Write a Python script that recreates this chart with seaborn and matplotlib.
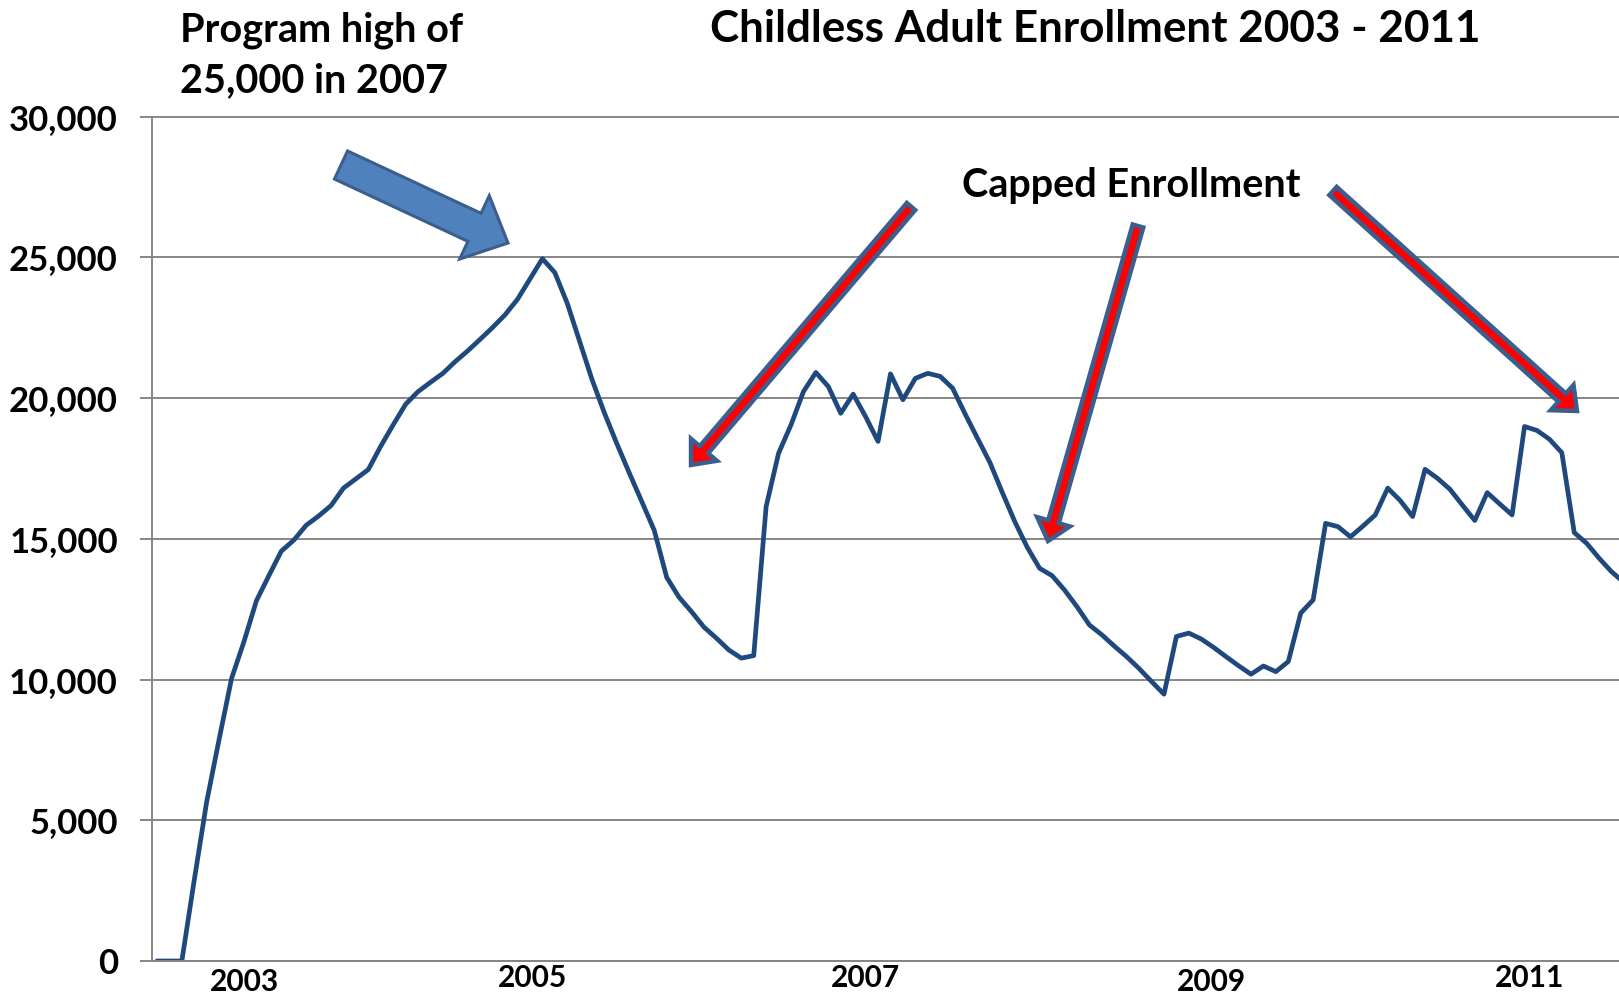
import matplotlib
matplotlib.use("Agg")
import matplotlib.pyplot as plt
import numpy as np
import pandas as pd
import seaborn as sns
from matplotlib.patches import FancyArrow
from matplotlib.transforms import IdentityTransform

# Monthly childless-adult enrollment, one value per month
enrollment = [
    0, 0, 0, 2880, 5660, 7880, 10040, 11350, 12800, 13690,
    14560, 14950, 15480, 15810, 16180, 16800, 17130, 17460, 18290, 19050,
    19780, 20230, 20560, 20880, 21300, 21680, 22090, 22510, 22960, 23510,
    24230, 24950, 24460, 23370, 22010, 20650, 19460, 18370, 17330, 16320,
    15300, 13630, 12920, 12410, 11860, 11470, 11050, 10760, 10850, 16150,
    18040, 19050, 20230, 20910, 20410, 19460, 20140, 19340, 18460, 20860,
    19940, 20700, 20880, 20770, 20350, 19440, 18570, 17710, 16640, 15610,
    14700, 13950, 13690, 13180, 12590, 11940, 11590, 11190, 10810, 10390,
    9930, 9480, 11530, 11650, 11440, 11140, 10810, 10490, 10190, 10480,
    10280, 10640, 12360, 12830, 15550, 15430, 15070, 15450, 15850, 16800,
    16360, 15790, 17470, 17150, 16760, 16200, 15650, 16640, 16240, 15850,
    18990, 18850, 18540, 18060, 15220, 14840, 14310, 13830, 13450,
]
months = list(range(len(enrollment)))

# Year labels along the month axis
year_labels = ["2003", "2005", "2007", "2009", "2011"]
year_months = [7, 30.2, 57, 84.8, 110.4]

y_ticks = [0, 5000, 10000, 15000, 20000, 25000, 30000]

title = "Childless Adult Enrollment 2003 - 2011"
peak_note = "Program high of\n25,000 in 2007"
cap_note = "Capped Enrollment"

LINE = "#1F497D"
GRID = "#868686"
SHAPE_EDGE = "#3A5F8E"

sns.set_theme(style="white")
plt.rcParams["font.family"] = ["Lato", "DejaVu Sans"]
plt.rcParams["font.weight"] = "bold"

W, H = 1619, 995
fig = plt.figure(figsize=(W / 100, H / 100 + 0.001), dpi=100)
fig.patch.set_facecolor("white")
ax = fig.add_axes([152 / W, (H - 961) / H, 1 - 152 / W, (961 - 116.7) / H])

df = pd.DataFrame({"month": months, "enrollment": enrollment})
sns.lineplot(data=df, x="month", y="enrollment", ax=ax, color=LINE,
             linewidth=3.4, solid_joinstyle="round", solid_capstyle="round")

ax.set_xlim(-0.4, 117.6)
ax.set_ylim(0, 30000)
ax.set_xlabel("")
ax.set_ylabel("")

ax.set_yticks(y_ticks, [f"{v:,}" for v in y_ticks])
ax.set_xticks(year_months, year_labels)

ax.yaxis.grid(True, color=GRID, linewidth=1.4)
ax.xaxis.grid(False)
for gl in ax.get_ygridlines():
    gl.set_clip_on(False)

for side in ("top", "right"):
    ax.spines[side].set_visible(False)
for side in ("left", "bottom"):
    ax.spines[side].set_color(GRID)
    ax.spines[side].set_linewidth(1.4)

ax.tick_params(axis="y", left=True, length=8.6, width=1.4, color=GRID,
               pad=16, labelsize=25, labelcolor="black")
ax.tick_params(axis="x", bottom=False, length=0, pad=2.2, labelsize=21.5,
               labelcolor="black")
for lab in ax.get_yticklabels() + ax.get_xticklabels():
    lab.set_fontweight("bold")

# 2003 and 2009 sit a little lower than the other year labels
for tick, lab in zip(ax.xaxis.get_major_ticks(), year_labels):
    if lab in ("2003", "2009"):
        tick.set_pad(4.7)

# Text annotations (pixel positions measured from the top-left corner)
def px(x, y):
    return x / W, 1 - y / H

fig.text(*px(1095, 42), title, ha="center", va="baseline",
         fontsize=31.7, fontweight="bold", color="black")
fig.text(*px(180, 92), peak_note, ha="left", va="baseline",
         fontsize=28.5, fontweight="bold", color="black", linespacing=1.45)
fig.text(*px(1131, 196.7), cap_note, ha="center", va="baseline",
         fontsize=28.5, fontweight="bold", color="black")

# Block arrows drawn in display pixels
def block_arrow(tail, tip, width, head_width, head_length, face, edge, lw):
    x0, y0 = tail[0], H - tail[1]
    x1, y1 = tip[0], H - tip[1]
    arr = FancyArrow(x0, y0, x1 - x0, y1 - y0, width=width,
                     head_width=head_width, head_length=head_length,
                     length_includes_head=True, transform=IdentityTransform(),
                     facecolor=face, edgecolor=edge, linewidth=lw,
                     joinstyle="miter", zorder=5)
    fig.add_artist(arr)

block_arrow((341, 165), (508, 243), 31, 70, 37, "#4F81BD", SHAPE_EDGE, 2.2)
block_arrow((911, 206.5), (691, 465), 11, 34, 20, "#FF0000", SHAPE_EDGE, 3.2)
block_arrow((1138, 226), (1048, 541), 11, 34, 20, "#FF0000", SHAPE_EDGE, 3.2)
block_arrow((1333, 191), (1577, 411), 11, 34, 20, "#FF0000", SHAPE_EDGE, 3.2)

fig.savefig("out.png", dpi=100, facecolor="white")
